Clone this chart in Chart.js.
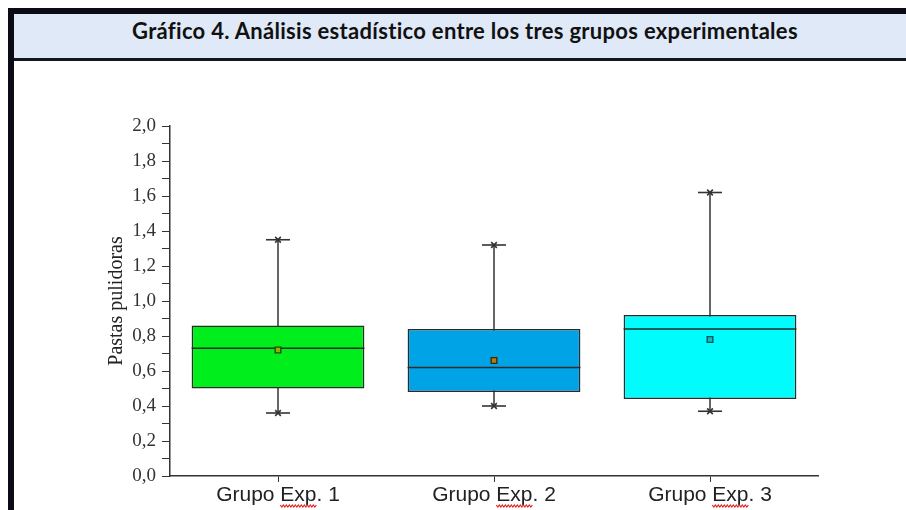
<!DOCTYPE html>
<html>
<head>
<meta charset="UTF-8">
<title>Gráfico 4</title>
<script src="https://cdn.jsdelivr.net/npm/chart.js"></script>
<style>
body { margin: 0; width: 906px; height: 510px; overflow: hidden; background: #fff; }
#marco {
    position: absolute; left: 8px; top: 8px; width: 1000px; height: 600px;
    border-left: 6px solid #0b0b16; border-top: 6px solid #0b0b16;
}
#titulo {
    width: 902px; height: 44px; background: #dfe9f7; border-bottom: 3px solid #16161f;
    text-align: center; font: bold 22px Lato; letter-spacing: 0.3px; line-height: 34px; color: #111;
}
#grafico { position: absolute; left: 0; top: 0; }
</style>
</head>
<body>
<div id="marco"><div id="titulo">Gráfico 4. Análisis estadístico entre los tres grupos experimentales</div></div>
<canvas id="grafico" width="906" height="510"></canvas>
<script>
const grupos = ['Grupo Exp. 1', 'Grupo Exp. 2', 'Grupo Exp. 3'];
const minimos = [0.36, 0.40, 0.37];
const q1 = [0.50, 0.48, 0.44];
const medianas = [0.73, 0.62, 0.84];
const q3 = [0.86, 0.84, 0.92];
const maximos = [1.35, 1.32, 1.62];
const medias = [0.72, 0.66, 0.78];

const colores = ['#00ee1c', '#00a3e6', '#00fcfc'];
const fuenteX = '21px "Liberation Sans"';

function extremo(datos, estilo, radio) {
    return {
        type: 'line', data: datos, showLine: false, clip: false, order: 1,
        pointStyle: estilo, pointRadius: radio, pointHoverRadius: radio,
        pointBorderColor: '#333', pointBorderWidth: 1.6, pointBackgroundColor: '#333'
    };
}

// bigotes, medianas y subrayado rojo del corrector
const cajas = {
    id: 'cajas',
    beforeDatasetsDraw(chart) {
        const y = chart.scales.y, ctx = chart.ctx;
        ctx.save();
        ctx.strokeStyle = '#333';
        ctx.lineWidth = 1.5;
        chart.getDatasetMeta(0).data.forEach((b, i) => {
            ctx.beginPath();
            ctx.moveTo(b.x, y.getPixelForValue(maximos[i]));
            ctx.lineTo(b.x, y.getPixelForValue(minimos[i]));
            ctx.stroke();
        });
        ctx.restore();
    },
    afterDatasetDraw(chart, args) {
        if (args.index !== 0) return;
        const y = chart.scales.y, ctx = chart.ctx;
        ctx.save();
        ctx.strokeStyle = '#2a2a2a';
        ctx.lineWidth = 1.5;
        args.meta.data.forEach((b, i) => {
            const py = y.getPixelForValue(medianas[i]);
            ctx.beginPath();
            ctx.moveTo(b.x - b.width / 2, py);
            ctx.lineTo(b.x + b.width / 2, py);
            ctx.stroke();
        });
        ctx.restore();
    },
    afterDraw(chart) {
        const x = chart.scales.x, ctx = chart.ctx;
        ctx.save();
        ctx.font = fuenteX;
        ctx.strokeStyle = '#e02424';
        ctx.lineWidth = 1.2;
        grupos.forEach((g, i) => {
            const cx = x.getPixelForTick(i);
            const ini = cx - ctx.measureText(g).width / 2 + ctx.measureText('Grupo ').width;
            const fin = ini + ctx.measureText('Exp').width;
            const yy = x.top + 30;
            ctx.beginPath();
            let arriba = true;
            for (let px = ini; px <= fin; px += 1.5) {
                const py = yy + (arriba ? -1 : 1);
                if (px === ini) ctx.moveTo(px, py); else ctx.lineTo(px, py);
                arriba = !arriba;
            }
            ctx.stroke();
        });
        ctx.restore();
    }
};

new Chart(document.getElementById('grafico'), {
    data: {
        labels: grupos,
        datasets: [
            {
                type: 'bar',
                data: grupos.map((g, i) => [q1[i], q3[i]]),
                backgroundColor: colores,
                borderColor: '#2a2a2a',
                borderWidth: 1.5,
                borderSkipped: false,
                barPercentage: 0.8,
                categoryPercentage: 1,
                grouped: false,
                order: 3
            },
            extremo(maximos, 'line', 12),
            extremo(maximos, 'crossRot', 4),
            extremo(minimos, 'line', 12),
            extremo(minimos, 'crossRot', 4),
            {
                type: 'line', data: medias, showLine: false, clip: false, order: 0,
                pointStyle: 'rect', pointRadius: 4, pointHoverRadius: 4,
                pointBackgroundColor: ['#8fb400', '#b07d14', '#1ab8c0'],
                pointBorderColor: ['#1d4d00', '#3d2800', '#00545c'],
                pointBorderWidth: 1.3
            }
        ]
    },
    options: {
        responsive: false,
        devicePixelRatio: 1,
        animation: false,
        layout: { padding: { left: 0, right: 88, top: 126, bottom: 0 } },
        plugins: { legend: { display: false }, tooltip: { enabled: false } },
        scales: {
            x: {
                type: 'category',
                offset: true,
                grid: { display: true, drawOnChartArea: false, offset: false, tickLength: 6, color: '#333' },
                border: { color: '#333', width: 1.5 },
                ticks: { font: { family: 'Liberation Sans', size: 21 }, color: '#222', padding: 1, maxRotation: 0 },
                afterFit: s => { s.height = 34; }
            },
            y: {
                min: 0,
                max: 2,
                grid: { display: true, drawOnChartArea: false, tickLength: 8, color: '#333' },
                border: { color: '#333', width: 1.5 },
                ticks: {
                    stepSize: 0.1,
                    maxTicksLimit: 25,
                    autoSkip: false,
                    padding: 6,
                    color: '#333',
                    font: { family: 'Liberation Serif', size: 19 },
                    callback: v => {
                        const n = Math.round(v * 10);
                        return n % 2 === 0 ? (n / 10).toFixed(1).replace('.', ',') : '';
                    }
                },
                title: {
                    display: true,
                    text: 'Pastas pulidoras',
                    color: '#222',
                    font: { family: 'Liberation Serif', size: 20 },
                    padding: { top: 105, bottom: 0 }
                },
                afterFit: s => { s.width = 170; }
            }
        }
    },
    plugins: [cajas]
});
</script>
</body>
</html>
